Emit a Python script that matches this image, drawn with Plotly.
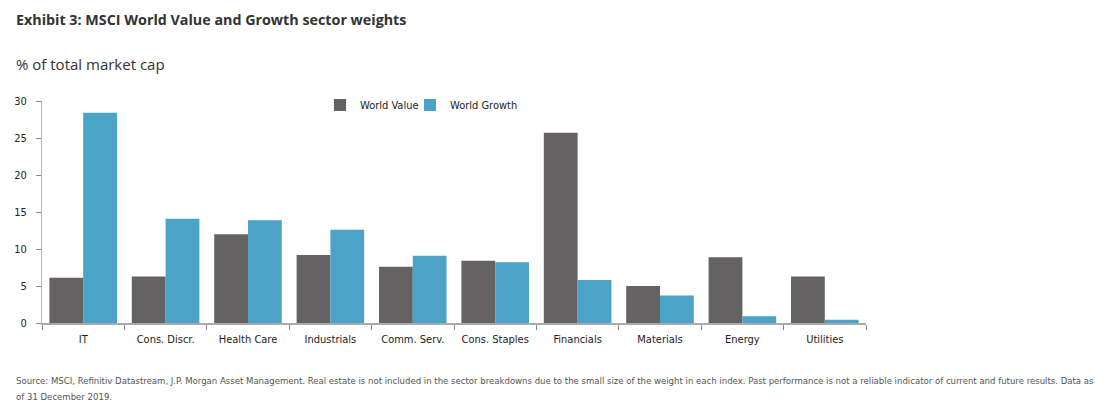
import plotly.graph_objects as go

categories = ["IT", "Cons. Discr.", "Health Care", "Industrials", "Comm. Serv.",
              "Cons. Staples", "Financials", "Materials", "Energy", "Utilities"]
world_value = [6.1, 6.3, 12.0, 9.2, 7.6, 8.4, 25.7, 5.0, 8.9, 6.3]
world_growth = [28.4, 14.1, 13.9, 12.6, 9.1, 8.2, 5.8, 3.7, 0.9, 0.45]
y_ticks = [0, 5, 10, 15, 20, 25, 30]

VALUE_C = "#646263"
GROWTH_C = "#4BA3C7"
TEXT_C = "#333333"
NARROW = "Liberation Sans Narrow, DejaVu Sans Condensed, sans-serif"

# page is offset by 8px body margin; work in figure pixels
W, H = 1092, 394
L, T, PW, PH = 34, 93, 824, 222


def px_x(page_x):
    return (page_x - 8 - L) / PW


def px_y(page_y):
    return 1 + (T - (page_y - 8)) / PH


fig = go.Figure()
fig.add_trace(go.Bar(x=categories, y=world_value, name="World Value",
                     marker=dict(color=VALUE_C, line=dict(width=0)), legend="legend"))
fig.add_trace(go.Bar(x=categories, y=world_growth, name="World Growth",
                     marker=dict(color=GROWTH_C, line=dict(width=0)), legend="legend2"))

legend_common = dict(orientation="h", xanchor="left", yanchor="middle",
                     font=dict(family=NARROW, size=11, color="#222222"),
                     itemwidth=30, bgcolor="rgba(0,0,0,0)")

fig.update_layout(
    width=W, height=H,
    margin=dict(l=L, r=W - L - PW, t=T, b=H - T - PH),
    paper_bgcolor="white", plot_bgcolor="white",
    barmode="group", bargap=0.18, bargroupgap=0,
    font=dict(family="Open Sans, Noto Sans, sans-serif", color=TEXT_C),
    showlegend=True,
    legend=dict(x=px_x(320), y=px_y(105), **legend_common),
    legend2=dict(x=px_x(410), y=px_y(105), **legend_common),
    annotations=[
        dict(text="<b>Exhibit 3: MSCI World Value and Growth sector weights</b>",
             xref="paper", yref="paper", x=px_x(14), y=px_y(19),
             xanchor="left", yanchor="middle", showarrow=False,
             font=dict(size=14.3, color=TEXT_C, family="Open Sans, sans-serif")),
        dict(text="% of total market cap",
             xref="paper", yref="paper", x=px_x(14), y=px_y(64),
             xanchor="left", yanchor="middle", showarrow=False,
             font=dict(size=15, color=TEXT_C, family="Open Sans, sans-serif")),
        dict(text="Source: MSCI, Refinitiv Datastream, J.P. Morgan Asset Management. Real estate is not included in the sector breakdowns due to the small size of the weight in each index. Past performance is not a reliable indicator of current and future results. Data as",
             xref="paper", yref="paper", x=px_x(14), y=px_y(380),
             xanchor="left", yanchor="middle", showarrow=False, align="left",
             font=dict(size=9.5, color="#555555", family=NARROW)),
        dict(text="of 31 December 2019.",
             xref="paper", yref="paper", x=px_x(14), y=px_y(396),
             xanchor="left", yanchor="middle", showarrow=False, align="left",
             font=dict(size=9.5, color="#555555", family=NARROW)),
    ],
)

fig.update_xaxes(
    type="category", showline=True, linecolor="#aaaaaa", linewidth=2,
    ticks="outside", tickson="boundaries", ticklen=5, tickcolor="#888888",
    showgrid=False, zeroline=False, ticklabelstandoff=5, automargin=False,
    tickfont=dict(size=11, color="#222222", family=NARROW),
)
fig.update_yaxes(
    range=[0, 30], tickvals=y_ticks, ticktext=[str(v) for v in y_ticks],
    showline=True, linecolor="#bbbbbb", linewidth=1,
    ticks="outside", ticklen=5, tickcolor="#888888", automargin=False,
    showgrid=False, zeroline=False, ticklabelstandoff=7,
    tickfont=dict(size=11, color="#222222", family=NARROW),
)

fig.write_html("out.html")
